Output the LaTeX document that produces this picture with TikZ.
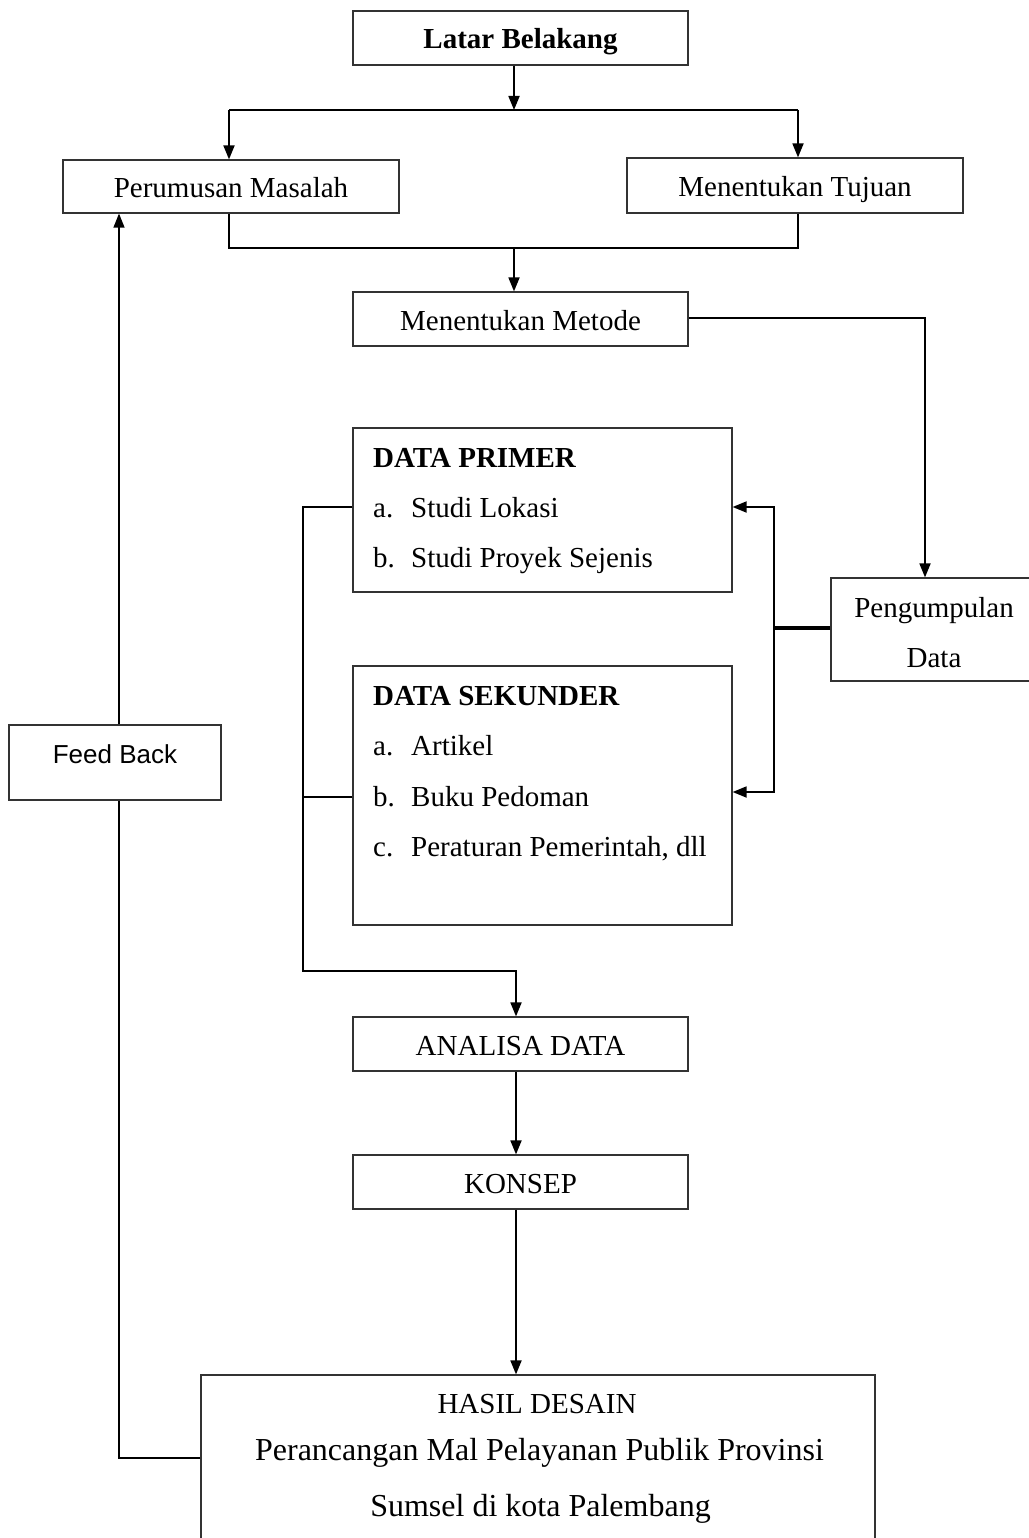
\documentclass[tikz,border=0pt]{standalone}
\usepackage{fontspec}
\setmainfont{Liberation Serif}
\newfontfamily\fbfont{Liberation Sans}
\usetikzlibrary{arrows.meta}
\begin{document}
\begin{tikzpicture}[x=1pt,y=-1pt,
  box/.style={draw=black!80, line width=1.2pt, fill=white, rectangle, inner sep=0pt,
    text height=28pt, text depth=6pt, font=\fontsize{29}{35}\selectfont},
  emptybox/.style={draw=black!80, line width=1.2pt, fill=white, rectangle, inner sep=0pt},
  conn/.style={line width=1.8pt, black},
  arr/.style={conn, -{Triangle[length=14pt,width=11pt]}},
  fbline/.style={line width=1.2pt, black},
  txt/.style={inner sep=0pt, anchor=base west, font=\fontsize{29}{35}\selectfont},
  ctxt/.style={inner sep=0pt, anchor=base, font=\fontsize{29}{35}\selectfont}]
\useasboundingbox (0,0) rectangle (1028,1538);
\fill[white] (0,0) rectangle (1028,1538);

% boxes
\node[box, minimum width=335pt, minimum height=54pt] (lb) at (520.5,38) {\bfseries Latar Belakang};
\node[box, minimum width=336pt, minimum height=53pt] (pm) at (231,186.5) {Perumusan Masalah};
\node[box, minimum width=336pt, minimum height=55pt] (tj) at (795,185.5) {Menentukan Tujuan};
\node[box, minimum width=335pt, minimum height=54pt] (mm) at (520.5,319) {Menentukan Metode};
\node[emptybox, minimum width=210pt, minimum height=103pt] (pd) at (936,629.5) {};
\node[ctxt] (pd1) at (934,617) {Pengumpulan};
\node[ctxt] (pd2) at (934,667) {Data};

\node[emptybox, minimum width=379pt, minimum height=164pt] (primer) at (542.5,510) {};
\node[txt] (p0) at (373,467) {\bfseries DATA PRIMER};
\node[txt] (p1) at (373,517) {\makebox[38pt][l]{a.}Studi Lokasi};
\node[txt] (p2) at (373,567) {\makebox[38pt][l]{b.}Studi Proyek Sejenis};

\node[emptybox, minimum width=379pt, minimum height=259pt] (sekunder) at (542.5,795.5) {};
\node[txt] (s0) at (373,705) {\bfseries DATA SEKUNDER};
\node[txt] (s1) at (373,755) {\makebox[38pt][l]{a.}Artikel};
\node[txt] (s2) at (373,806) {\makebox[38pt][l]{b.}Buku Pedoman};
\node[txt] (s3) at (373,856) {\makebox[38pt][l]{c.}Peraturan Pemerintah, dll};

\node[box, minimum width=335pt, minimum height=54pt] (ad) at (520.5,1044) {ANALISA DATA};
\node[box, minimum width=335pt, minimum height=54pt] (ks) at (520.5,1182) {KONSEP};

\node[emptybox, minimum width=674pt, minimum height=170pt] (hd) at (538,1460) {};
\node[ctxt] (h0) at (537,1413) {HASIL DESAIN};
\node[ctxt, font=\fontsize{32}{38}\selectfont] (h1) at (539.5,1460.5) {Perancangan Mal Pelayanan Publik Provinsi};
\node[ctxt, font=\fontsize{32}{38}\selectfont] (h2) at (540.5,1516) {Sumsel di kota Palembang};

\node[emptybox, minimum width=212pt, minimum height=75pt] (fb) at (115,762.5) {};
\node[ctxt, font=\fbfont\fontsize{26}{31}\selectfont] (fbt) at (115,763.5) {Feed Back};

% coordinates
\coordinate (j1) at (514,110);
\coordinate (j1L) at (229,110);
\coordinate (j1R) at (798,110);
\coordinate (j2) at (514,248);
\coordinate (j2L) at (229,248);
\coordinate (j2R) at (798,248);
\coordinate (c1) at (925,318);
\coordinate (rv) at (774,628);
\coordinate (pa) at (0,507);
\coordinate (sb) at (0,792);
\coordinate (sl) at (303,797);
\coordinate (lv) at (303,971);
\coordinate (ax) at (516,0);
\coordinate (fbX) at (119,0);
\coordinate (fbY) at (0,1458);

% connectors
\draw[arr] (lb.south -| j1) -- (j1);
\draw[conn] (j1L) -- (j1R);
\draw[arr] (j1L) -- (j1L |- pm.north);
\draw[arr] (j1R) -- (j1R |- tj.north);
\draw[conn] (j2L |- pm.south) -- (j2L) -- (j2R) -- (j2R |- tj.south);
\draw[arr] (j2) -- (j2 |- mm.north);
\draw[arr] (mm.east |- c1) -| (pd.north -| c1);
\draw[line width=3.5pt] (pd.west |- rv) -- (rv);
\draw[arr] (rv) |- (primer.east |- pa);
\draw[arr] (rv) |- (sekunder.east |- sb);
\draw[arr] (primer.west |- pa) -| (lv) -| (ad.north -| ax);
\draw[conn] (sekunder.west |- sl) -- (sl);
\draw[arr] (ad.south -| ax) -- (ks.north -| ax);
\draw[arr] (ks.south -| ax) -- (hd.north -| ax);
\draw[fbline] (hd.west |- fbY) -| (fb.south -| fbX);
\draw[fbline, -{Triangle[length=14pt,width=11pt]}] (fb.north -| fbX) -- (pm.south -| fbX);
\end{tikzpicture}
\end{document}
